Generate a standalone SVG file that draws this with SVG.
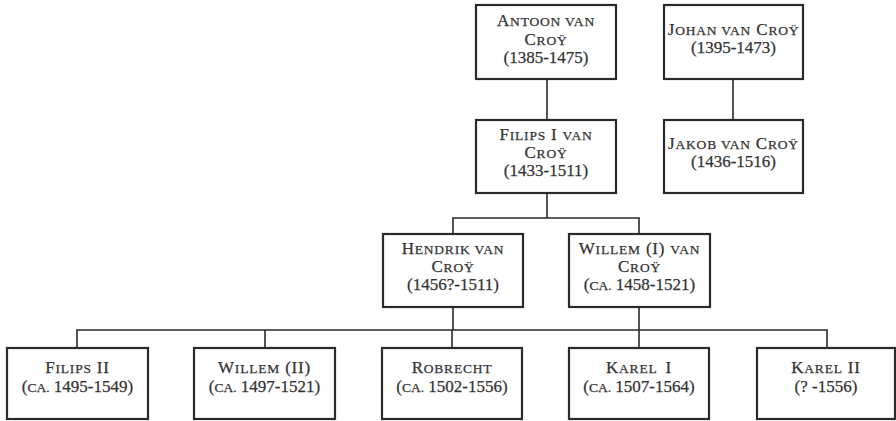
<svg xmlns="http://www.w3.org/2000/svg" width="896" height="421" viewBox="0 0 896 421">
<style>
.box{fill:#fff;stroke:#2a2a2a;stroke-width:2.2}
.conn{fill:none;stroke:#2a2a2a;stroke-width:1.6}
text{font-family:"Liberation Serif","Times New Roman",serif;font-size:17px;fill:#333;stroke:#333;stroke-width:0.25;text-anchor:middle}
.n{letter-spacing:0.8px}
.s{font-size:13.5px}
</style>
<rect width="896" height="421" fill="#fff"/>
<g id="connectors">
<path class="conn" d="M547 79V120"/>
<path class="conn" d="M733 79V120"/>
<path class="conn" d="M547 193V218H453V234M547 218H639V234"/>
<path class="conn" d="M453 307V330M77 348V330H827V348M265 330V348M452 330V348M639 307V348"/>
</g>
<g id="antoon">
<rect class="box" x="476" y="5" width="140" height="74"/>
<text x="546" y="26" class="n">A<tspan class="s">NTOON VAN</tspan></text>
<text x="546" y="45" class="n">C<tspan class="s">ROŸ</tspan></text>
<text x="546" y="63">(1385-1475)</text>
</g>
<g id="johan">
<rect class="box" x="664" y="5" width="139" height="74"/>
<text x="733.5" y="35" class="n">J<tspan class="s">OHAN VAN</tspan> C<tspan class="s">ROŸ</tspan></text>
<text x="733.5" y="53">(1395-1473)</text>
</g>
<g id="filips1">
<rect class="box" x="476" y="120" width="140" height="73"/>
<text x="546" y="140" class="n">F<tspan class="s">ILIPS</tspan> I <tspan class="s">VAN</tspan></text>
<text x="546" y="158" class="n">C<tspan class="s">ROŸ</tspan></text>
<text x="546" y="176">(1433-1511)</text>
</g>
<g id="jakob">
<rect class="box" x="664" y="120" width="139" height="73"/>
<text x="733.5" y="149" class="n">J<tspan class="s">AKOB VAN</tspan> C<tspan class="s">ROŸ</tspan></text>
<text x="733.5" y="167">(1436-1516)</text>
</g>
<g id="hendrik">
<rect class="box" x="383" y="234" width="140" height="73"/>
<text x="453" y="254" class="n">H<tspan class="s">ENDRIK VAN</tspan></text>
<text x="453" y="272" class="n">C<tspan class="s">ROŸ</tspan></text>
<text x="453" y="290">(1456?-1511)</text>
</g>
<g id="willem1">
<rect class="box" x="569" y="234" width="141" height="73"/>
<text x="639.5" y="254" class="n">W<tspan class="s">ILLEM</tspan> (I) <tspan class="s">VAN</tspan></text>
<text x="639.5" y="272" class="n">C<tspan class="s">ROŸ</tspan></text>
<text x="639.5" y="290">(<tspan class="s">CA.</tspan> 1458-1521)</text>
</g>
<g id="filips2">
<rect class="box" x="7" y="348" width="141" height="71"/>
<text x="77.5" y="373" class="n">F<tspan class="s">ILIPS</tspan> II</text>
<text x="77.5" y="392">(<tspan class="s">CA.</tspan> 1495-1549)</text>
</g>
<g id="willem2">
<rect class="box" x="194" y="348" width="141" height="71"/>
<text x="264.5" y="373" class="n">W<tspan class="s">ILLEM</tspan> (II)</text>
<text x="264.5" y="392">(<tspan class="s">CA.</tspan> 1497-1521)</text>
</g>
<g id="robrecht">
<rect class="box" x="382" y="348" width="140" height="71"/>
<text x="452" y="373" class="n">R<tspan class="s">OBRECHT</tspan></text>
<text x="452" y="392">(<tspan class="s">CA.</tspan> 1502-1556)</text>
</g>
<g id="karel1">
<rect class="box" x="569" y="348" width="140" height="71"/>
<text x="639" y="373" class="n">K<tspan class="s">AREL</tspan> <tspan dx="3">I</tspan></text>
<text x="639" y="392">(<tspan class="s">CA.</tspan> 1507-1564)</text>
</g>
<g id="karel2">
<rect class="box" x="757" y="348" width="138" height="71"/>
<text x="826" y="373" class="n">K<tspan class="s">AREL</tspan> II</text>
<text x="826" y="392">(? -1556)</text>
</g>
</svg>
